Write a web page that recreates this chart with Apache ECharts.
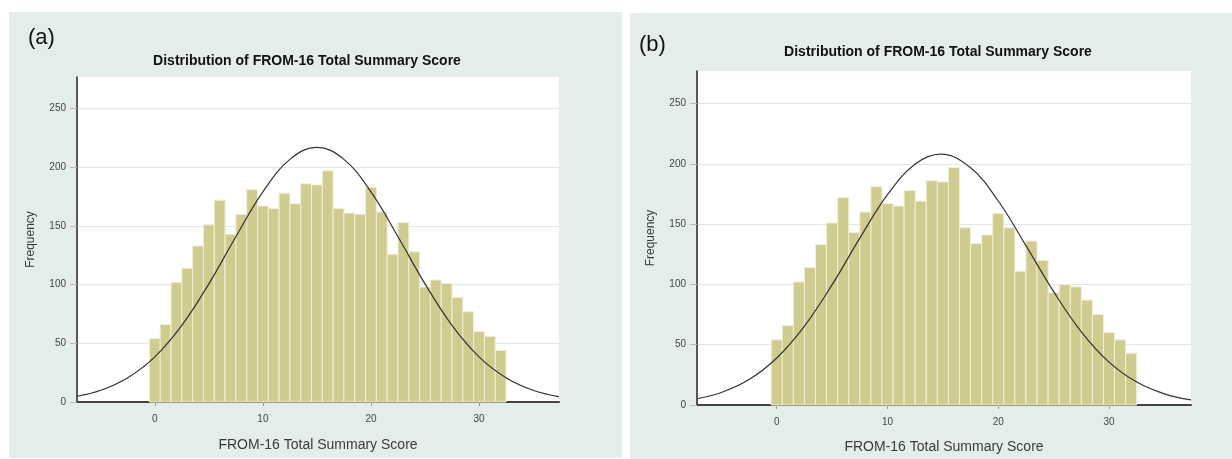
<!DOCTYPE html>
<html>
<head>
<meta charset="utf-8">
<script src="https://cdn.jsdelivr.net/npm/echarts@6/dist/echarts.min.js"></script>
<style>
html,body{margin:0;padding:0;background:#fff;}
#chart{width:1232px;height:459px;}
</style>
</head>
<body>
<div id="chart"></div>
<script>
// ---- data ----
const scores = [0,1,2,3,4,5,6,7,8,9,10,11,12,13,14,15,16,17,18,19,20,21,22,23,24,25,26,27,28,29,30,31,32];
const freqA = [54,66,102,114,133,151,172,143,160,181,167,165,178,169,186,185,197,165,161,160,183,162,126,153,128,98,104,101,89,77,60,56,44];
const freqB = [54,66,102,114,133,151,172,143,160,181,167,165,178,169,186,185,197,147,134,141,159,147,111,136,120,93,100,98,87,75,60,54,43];

// normal curve points
const curveXA = [-7.2,-5,-2.5,0,2.5,5,7.5,10,12.5,15,17.5,20,22.5,25,27.5,30,32.5,35,37.4];
const curveYA = [4.9,10,20.7,38.5,65.3,100.7,140.9,179.1,206.8,217,206.8,179.1,140.9,100.7,65.3,38.5,20.7,10,4.6];
const curveXB = [-7.2,-5,-2.5,0,2.5,5,7.5,10,12.5,14.8,17.5,20,22.5,25,27.5,30,32.5,35,37.4];
const curveYB = [5.2,10.4,21.1,39,65.5,99.8,138.4,174.4,199.8,208,196.7,169.2,132.2,94,60.7,35.6,19,9.2,4.2];

const xTicks = [0,10,20,30];
const yTicks = [0,50,100,150,200,250];
const titleText = 'Distribution of FROM-16 Total Summary Score';
const xName = 'FROM-16 Total Summary Score';
const yName = 'Frequency';
const panelLabels = ['(a)','(b)'];

// ---- styles ----
const FONT = '"Liberation Sans", Arial, sans-serif';
const BAR_FILL = '#d0cb8e';
const BAR_EDGE = '#f1efd6';
const PANEL_BG = '#e5edeb';

const chart = echarts.init(document.getElementById('chart'), null, {renderer:'canvas'});

function xAxisFor(gi, gap){
  return {
    type:'value', gridIndex:gi, min:-7.2, max:37.4,
    name:xName, nameLocation:'middle', nameGap:gap,
    nameTextStyle:{fontFamily:FONT, fontSize:14, color:'#3a3a3a'},
    axisLine:{show:true, onZero:false, lineStyle:{color:'#444', width:2}},
    axisTick:{show:true, length:4, customValues:xTicks, lineStyle:{color:'#999'}},
    axisLabel:{customValues:xTicks, fontFamily:FONT, fontSize:10, color:'#444', margin:12},
    splitLine:{show:false}
  };
}
function yAxisFor(gi){
  return {
    type:'value', gridIndex:gi, min:0, max:277,
    name:yName, nameLocation:'middle', nameGap:40, nameRotate:90,
    nameTextStyle:{fontFamily:FONT, fontSize:12, color:'#3a3a3a'},
    axisLine:{show:true, onZero:false, lineStyle:{color:'#222', width:1.5}},
    axisTick:{show:true, length:7, customValues:yTicks, lineStyle:{color:'#bbb'}},
    axisLabel:{customValues:yTicks, fontFamily:FONT, fontSize:10, color:'#444', margin:11},
    splitLine:{show:true, lineStyle:{color:'#e6e6e6', width:1}}
  };
}
function barSeries(gi, freq){
  return {
    type:'custom', xAxisIndex:gi, yAxisIndex:gi,
    data: scores.map((s,i)=>[s, freq[i]]),
    encode:{x:0, y:1},
    renderItem:function(params, api){
      const x = api.value(0), y = api.value(1);
      const p0 = api.coord([x-0.5, y]);
      const p1 = api.coord([x+0.5, 0]);
      return {type:'rect', shape:{x:p0[0], y:p0[1], width:p1[0]-p0[0], height:p1[1]-p0[1]},
        style:{fill:BAR_FILL, stroke:BAR_EDGE, lineWidth:1}};
    },
    z:2
  };
}
function curveSeries(gi, xs, ys){
  return {
    type:'line', xAxisIndex:gi, yAxisIndex:gi, smooth:0.4, showSymbol:false, symbol:'none',
    data: xs.map((x,i)=>[x, ys[i]]),
    lineStyle:{color:'#333', width:1.2}, z:5, silent:true
  };
}

const option = {
  backgroundColor:'#ffffff',
  animation:false,
  graphic:[
    {type:'rect', z:-100, shape:{x:9, y:12, width:613, height:446}, style:{fill:PANEL_BG}, silent:true},
    {type:'rect', z:-100, shape:{x:630, y:13, width:602, height:446}, style:{fill:PANEL_BG}, silent:true},
    {type:'text', x:28, y:38, style:{text:panelLabels[0], font:'22px '+FONT, fill:'#111', textVerticalAlign:'middle'}},
    {type:'text', x:639, y:45, style:{text:panelLabels[1], font:'22px '+FONT, fill:'#111', textVerticalAlign:'middle'}},
    {type:'text', x:307, y:61, style:{text:titleText, font:'bold 14px '+FONT, fill:'#111', textAlign:'center', textVerticalAlign:'middle'}},
    {type:'text', x:938, y:52, style:{text:titleText, font:'bold 14px '+FONT, fill:'#111', textAlign:'center', textVerticalAlign:'middle'}}
  ],
  grid:[
    {left:77, top:77, width:482, height:325, show:true, backgroundColor:'#ffffff', borderWidth:0, containLabel:false},
    {left:697, top:71, width:494, height:334, show:true, backgroundColor:'#ffffff', borderWidth:0, containLabel:false}
  ],
  xAxis:[xAxisFor(0, 36), xAxisFor(1, 35)],
  yAxis:[yAxisFor(0), yAxisFor(1)],
  series:[
    barSeries(0, freqA), curveSeries(0, curveXA, curveYA),
    barSeries(1, freqB), curveSeries(1, curveXB, curveYB)
  ]
};
chart.setOption(option);
</script>
</body>
</html>
